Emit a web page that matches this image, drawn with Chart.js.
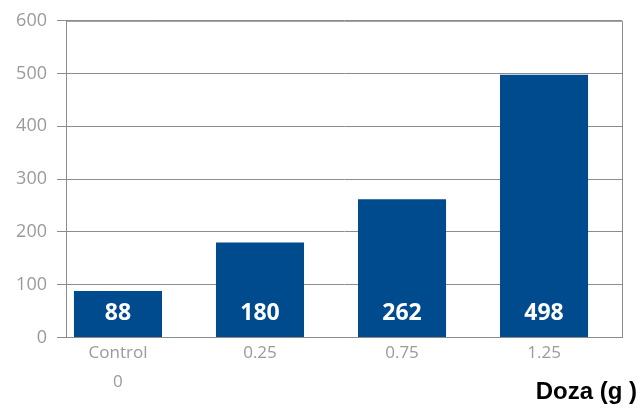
<!DOCTYPE html>
<html>
<head>
<meta charset="utf-8">
<script src="https://cdn.jsdelivr.net/npm/chart.js@4/dist/chart.umd.min.js"></script>
<style>
  html, body { margin: 0; padding: 0; background: #fff; }
  canvas { display: block; }
</style>
</head>
<body>
<canvas id="myChart" width="640" height="408"></canvas>
<script>
const categories = [['Control', '0'], '0.25', '0.75', '1.25'];
const values = [88, 180, 262, 498];
const yTicks = [0, 100, 200, 300, 400, 500, 600];
const axisTitle = 'Doza (g )';

const gray = '#8c8c8c';
const labelGray = '#9a9a9a';
const barBlue = '#004a8e';

// box round the plot area (top + right sides)
const frame = {
  id: 'frame',
  beforeDatasetsDraw(chart) {
    const { ctx, chartArea: a } = chart;
    ctx.save();
    ctx.strokeStyle = gray;
    ctx.lineWidth = 1;
    ctx.beginPath();
    ctx.moveTo(a.left, a.top + 0.5);
    ctx.lineTo(a.right + 0.5, a.top + 0.5);
    ctx.lineTo(a.right + 0.5, a.bottom);
    ctx.stroke();
    ctx.restore();
  }
};

// white value labels at the foot of each bar + axis title
const barLabels = {
  id: 'barLabels',
  afterDatasetsDraw(chart) {
    const { ctx } = chart;
    const meta = chart.getDatasetMeta(0);
    ctx.save();
    ctx.fillStyle = '#ffffff';
    ctx.font = 'bold 23px "Open Sans"';
    ctx.textAlign = 'center';
    ctx.textBaseline = 'middle';
    meta.data.forEach((bar, i) => {
      ctx.fillText(values[i], bar.x, bar.base - 24);
    });
    ctx.fillStyle = '#000000';
    ctx.font = 'bold 24px "Liberation Sans"';
    ctx.textAlign = 'right';
    ctx.textBaseline = 'alphabetic';
    ctx.fillText(axisTitle, 637, 399);
    ctx.restore();
  }
};

const ctx = document.getElementById('myChart').getContext('2d');

const myChart = new Chart(ctx, {
  type: 'bar',
  data: {
    datasets: [
      {
        data: values.map((v, i) => ({ x: i, y: v })),
        backgroundColor: barBlue,
        barPercentage: 1,
        categoryPercentage: 0.62
      }
    ]
  },
  options: {
    responsive: false,
    animation: false,
    layout: { padding: { left: 0, top: 19, right: 18, bottom: 0 } },
    plugins: {
      legend: { display: false },
      tooltip: { enabled: false }
    },
    scales: {
      x: {
        type: 'linear',
        offset: false,
        min: -0.366,
        max: 3.549,
        afterFit: (scale) => { scale.height = 70.5; },
        grid: { display: false, drawTicks: false, offset: false },
        border: { color: gray },
        ticks: {
          stepSize: 1,
          includeBounds: false,
          autoSkip: false,
          maxRotation: 0,
          padding: 1,
          color: labelGray,
          font: { family: '"Open Sans"', size: 17, lineHeight: 1.7 },
          callback: (v) => (Number.isInteger(v) && categories[v] !== undefined ? categories[v] : '')
        }
      },
      y: {
        min: 0,
        max: 600,
        afterFit: (scale) => { scale.width = 66; },
        afterBuildTicks: (scale) => { scale.ticks = yTicks.map((v) => ({ value: v })); },
        grid: { color: gray, tickLength: 9, drawOnChartArea: true },
        border: { color: gray },
        ticks: {
          padding: 10,
          color: labelGray,
          font: { family: '"Open Sans"', size: 18 }
        }
      }
    }
  },
  plugins: [frame, barLabels]
});
</script>
</body>
</html>
